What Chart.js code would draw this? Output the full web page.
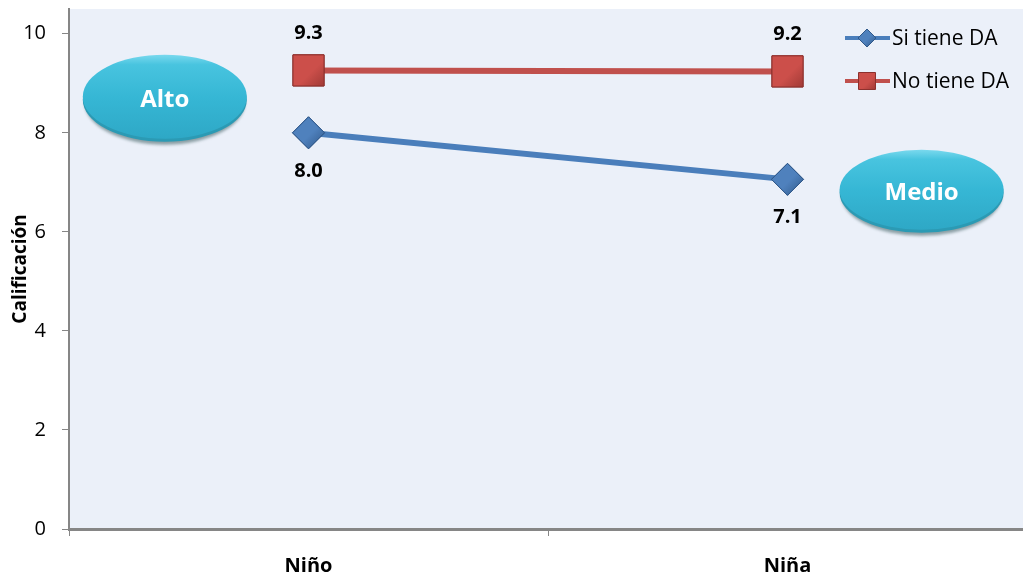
<!DOCTYPE html>
<html>
<head>
<meta charset="utf-8">
<script src="https://cdn.jsdelivr.net/npm/chart.js@4"></script>
<style>
    html, body { margin: 0; padding: 0; background: #fff; overflow: hidden; }
    #wrap { width: 1028px; height: 582px; position: relative; }
</style>
</head>
<body>
<div id="wrap"><canvas id="chart"></canvas></div>
<script>
const categories = ['Niño', 'Niña'];
const seriesNames = ['Si tiene DA', 'No tiene DA'];
const siTieneDA = [8.0, 7.06];
const noTieneDA = [9.26, 9.24];
const yTicks = [0, 2, 4, 6, 8, 10];
const yTitle = 'Calificación';

// callouts: text, centre as (category index, value)
const bubbleTexts = ['Alto', 'Medio'];
const bubbleCat = [-0.30, 1.28];
const bubbleVal = [8.73, 6.85];

const FONT = '"Open Sans", "DejaVu Sans", sans-serif';
const BLUE = '#4a7ebb';
const RED = '#c0504d';

const plotBg = {
    id: 'plotBg',
    beforeDraw(chart) {
        const { ctx, chartArea: a } = chart;
        ctx.save();
        ctx.fillStyle = '#ebf0f9';
        ctx.fillRect(a.left, a.top, a.right - a.left, a.bottom - a.top);
        ctx.restore();
    }
};

// light bevel on the markers, like the office 3D style
function shadeMarker(ctx, style, r, x, y, base, dark) {
    const g = ctx.createLinearGradient(x - r, y - r, x + r, y + r);
    g.addColorStop(0, base);
    g.addColorStop(0.55, base);
    g.addColorStop(1, dark);
    ctx.fillStyle = g;
    ctx.strokeStyle = dark;
    Chart.helpers.drawPoint(ctx, { pointStyle: style, radius: r, borderWidth: 1, rotation: 0 }, x, y);
}

const valueLabels = {
    id: 'valueLabels',
    afterDatasetsDraw(chart) {
        const ctx = chart.ctx;
        ctx.save();
        chart.data.datasets.forEach((ds, i) => {
            const meta = chart.getDatasetMeta(i);
            meta.data.forEach(pt => {
                shadeMarker(ctx, ds.pointStyle, ds.pointRadius, pt.x, pt.y, ds.pointBackgroundColor, ds.pointBorderColor);
            });
        });
        ctx.font = 'bold 20px ' + FONT;
        ctx.fillStyle = '#000';
        ctx.textAlign = 'center';
        ctx.textBaseline = 'middle';
        chart.data.datasets.forEach((ds, i) => {
            const meta = chart.getDatasetMeta(i);
            const dy = i === 0 ? 38 : -37;
            meta.data.forEach((pt, j) => {
                ctx.fillText(ds.data[j].toFixed(1), pt.x, pt.y + dy);
            });
        });
        ctx.restore();
    }
};

function drawBubble(ctx, cx, cy, rx, ry, text) {
    ctx.save();
    // rim / shadow underneath
    ctx.beginPath();
    ctx.ellipse(cx, cy + 6, rx - 2, ry, 0, 0, Math.PI * 2);
    ctx.fillStyle = '#8a9ea4';
    ctx.filter = 'blur(1.5px)';
    ctx.fill();
    ctx.filter = 'none';
    ctx.beginPath();
    ctx.ellipse(cx, cy + 3, rx, ry, 0, 0, Math.PI * 2);
    ctx.fillStyle = '#2b9ab4';
    ctx.fill();
    // body
    const g = ctx.createLinearGradient(0, cy - ry, 0, cy + ry);
    g.addColorStop(0, '#7ad9ee');
    g.addColorStop(0.12, '#48c4df');
    g.addColorStop(0.5, '#36b7d5');
    g.addColorStop(1, '#2ea8c6');
    ctx.beginPath();
    ctx.ellipse(cx, cy, rx, ry, 0, 0, Math.PI * 2);
    ctx.fillStyle = g;
    ctx.fill();
    ctx.fillStyle = '#fff';
    ctx.font = 'bold 24px ' + FONT;
    ctx.textAlign = 'center';
    ctx.textBaseline = 'middle';
    ctx.fillText(text, cx, cy + 3);
    ctx.restore();
}

const bubbles = {
    id: 'bubbles',
    afterDraw(chart) {
        const x = chart.scales.x, y = chart.scales.y;
        bubbleTexts.forEach((t, i) => {
            const cx = x.getPixelForValue(bubbleCat[i]);
            const cy = y.getPixelForValue(bubbleVal[i]);
            drawBubble(chart.ctx, cx, cy, 82, i === 0 ? 42 : 40, t);
        });
    }
};

const sideLegend = {
    id: 'sideLegend',
    afterDraw(chart) {
        const { ctx, chartArea: a } = chart;
        ctx.save();
        chart.data.datasets.forEach((ds, i) => {
            const y0 = a.top + 29 + i * 43;
            const x0 = a.right - 182;
            ctx.strokeStyle = ds.borderColor;
            ctx.lineWidth = 4;
            ctx.beginPath();
            ctx.moveTo(x0, y0);
            ctx.lineTo(x0 + 45, y0);
            ctx.stroke();
            ctx.lineWidth = 1;
            shadeMarker(ctx, ds.pointStyle, i === 0 ? 9 : 12, x0 + 22, y0, ds.pointBackgroundColor, ds.pointBorderColor);
            ctx.fillStyle = '#000';
            ctx.font = '21px ' + FONT;
            ctx.textAlign = 'left';
            ctx.textBaseline = 'middle';
            ctx.fillText(ds.label, x0 + 47, y0 + 1);
        });
        ctx.restore();
    }
};

new Chart(document.getElementById('chart'), {
    type: 'line',
    data: {
        labels: categories,
        datasets: [{
            label: seriesNames[0],
            data: siTieneDA,
            borderColor: BLUE,
            borderWidth: 6,
            pointStyle: 'rectRot',
            pointRadius: 16,
            pointBackgroundColor: '#4f81bd',
            pointBorderColor: '#2f5788',
            pointBorderWidth: 1,
            tension: 0
        }, {
            label: seriesNames[1],
            data: noTieneDA,
            borderColor: RED,
            borderWidth: 6,
            pointStyle: 'rect',
            pointRadius: 22,
            pointBackgroundColor: '#cc4f4a',
            pointBorderColor: '#8c302d',
            pointBorderWidth: 1,
            tension: 0
        }]
    },
    options: {
        responsive: true,
        maintainAspectRatio: false,
        animation: false,
        layout: { autoPadding: false, padding: { top: 9, right: 1, left: 0, bottom: 0 } },
        plugins: {
            legend: { display: false },
            tooltip: { enabled: false }
        },
        scales: {
            x: {
                offset: true,
                grid: { display: true, drawOnChartArea: false, offset: true, tickLength: 7, color: '#868686' },
                border: { display: true, color: '#868686', width: 3 },
                ticks: { color: '#000', font: { family: FONT, size: 20, weight: 'bold' }, padding: 18 },
                afterFit: s => { s.height = 53; s.paddingLeft = 0; s.paddingRight = 0; }
            },
            y: {
                min: 0,
                max: 10.5,
                afterBuildTicks: s => { s.ticks = yTicks.map(v => ({ value: v })); },
                grid: { drawOnChartArea: false, tickLength: 7, color: '#868686' },
                border: { display: true, color: '#868686', width: 2 },
                ticks: { color: '#000', font: { family: FONT, size: 20 }, padding: 16 },
                title: {
                    display: true,
                    text: yTitle,
                    color: '#000',
                    font: { family: FONT, size: 19, weight: 'bold' },
                    padding: { top: 9, bottom: 0 }
                },
                afterFit: s => { s.width = 69; s.paddingTop = 0; s.paddingBottom = 0; }
            }
        }
    },
    plugins: [plotBg, valueLabels, bubbles, sideLegend]
});
</script>
</body>
</html>
